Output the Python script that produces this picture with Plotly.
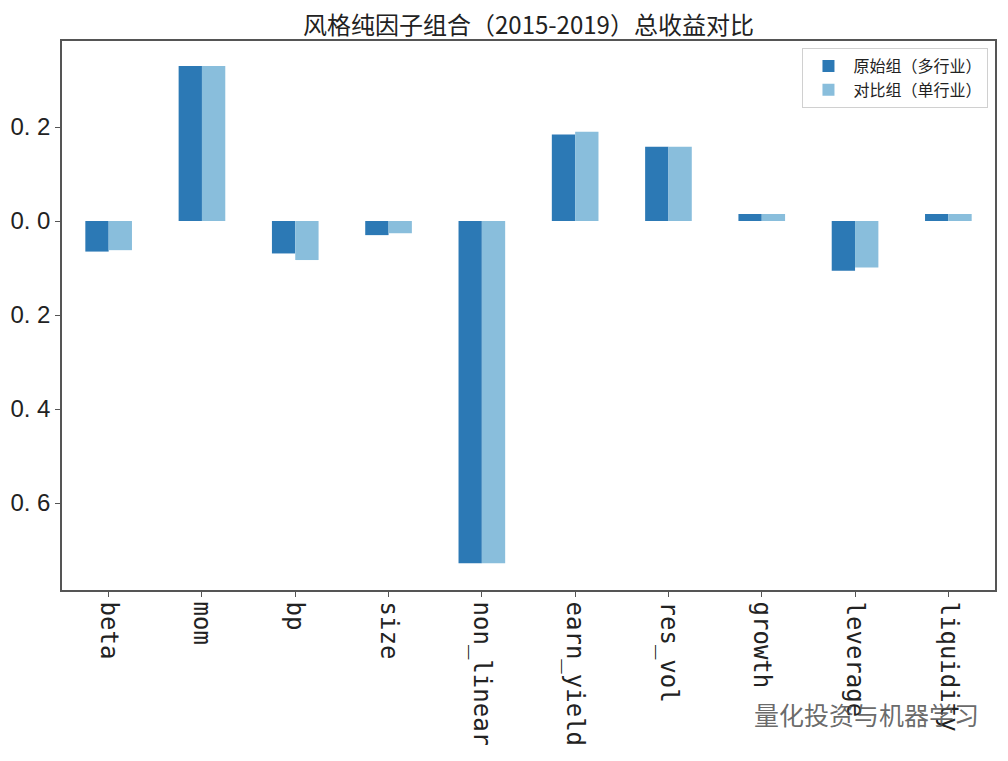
import plotly.graph_objects as go

factors = ['beta', 'mom', 'bp', 'size', 'non_linear', 'earn_yield',
           'res_vol', 'growth', 'leverage', 'liquidity']
orig_multi = [-0.065, 0.330, -0.069, -0.030, -0.728, 0.184, 0.158, 0.015, -0.106, 0.015]
comp_single = [-0.062, 0.330, -0.083, -0.026, -0.728, 0.190, 0.158, 0.015, -0.099, 0.015]
ytick_vals = [0.2, 0.0, -0.2, -0.4, -0.6]
ytick_text = ['0. 2', '0. 0', '0. 2', '0. 4', '0. 6']

fig = go.Figure()
fig.add_trace(go.Bar(x=factors, y=orig_multi, name='原始组（多行业）',
                     marker=dict(color='#2C79B5', line=dict(width=0))))
fig.add_trace(go.Bar(x=factors, y=comp_single, name='对比组（单行业）',
                     marker=dict(color='#89BEDC', line=dict(width=0))))

# page body has an 8px margin, so the figure is sized to fit the window
fig.update_layout(
    width=1000, height=753,
    barmode='group', bargap=0.5, bargroupgap=0,
    plot_bgcolor='white', paper_bgcolor='white',
    margin=dict(l=54, r=13, t=33, b=171),
    legend=dict(x=0.993, y=0.987, xanchor='right', yanchor='top',
                bgcolor='white', bordercolor='#d0d0d0', borderwidth=1,
                font=dict(family='Noto Sans CJK SC', size=16, color='#222'),
                itemwidth=40, tracegroupgap=4),
    showlegend=True,
)
fig.update_xaxes(
    tickangle=90, showgrid=False, zeroline=False, automargin=False,
    showline=True, mirror=True, linecolor='#555', linewidth=1.5,
    ticks='outside', ticklen=5, tickcolor='#555',
    tickfont=dict(family='DejaVu Sans Mono', size=24, color='#222'),
    range=[-0.5, 9.5],
)
fig.update_yaxes(
    range=[-0.785, 0.383], tickvals=ytick_vals, ticktext=ytick_text,
    showgrid=False, zeroline=False, automargin=False,
    showline=True, mirror=True, linecolor='#555', linewidth=1.5,
    ticks='outside', ticklen=5, tickcolor='#555',
    tickfont=dict(family='Liberation Sans', size=24, color='#222'),
)

# title as an annotation so it stays inside the page
fig.add_annotation(text='风格纯因子组合（2015-2019）总收益对比',
                   xref='paper', yref='paper', x=0.5, y=1 + 17 / 549,
                   xanchor='center', yanchor='middle', showarrow=False,
                   font=dict(family='Noto Sans CJK SC', size=24, color='#222'))

fig.add_annotation(text='量化投资与机器学习', xref='paper', yref='paper',
                   x=0.985, y=-0.225, xanchor='right', yanchor='middle',
                   showarrow=False,
                   font=dict(family='Noto Sans CJK SC', size=25, color='rgba(80,80,80,0.85)'))

fig.write_html("out.html")
